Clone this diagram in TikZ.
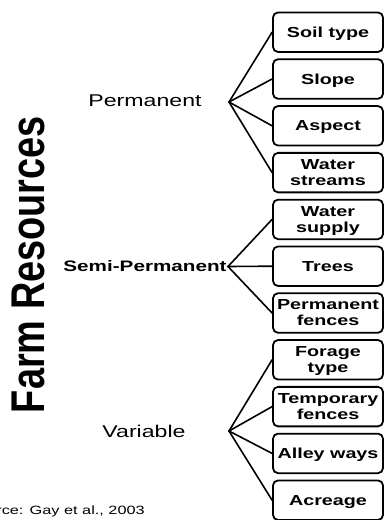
\documentclass[tikz,border=0pt]{standalone}
\usepackage{fontspec}
\setmainfont{Liberation Sans}
\usepackage{graphicx}
\newcommand{\hstr}[1]{\scalebox{1.36}[1]{#1}}
\begin{document}
\begin{tikzpicture}[x=1pt,y=-1pt,
  item/.style={draw=black, line width=1.8pt, rounded corners=5pt,
    minimum width=110pt, minimum height=39.5pt, inner sep=0pt,
    align=center, text depth=0pt,
    font=\fontsize{14.5}{16}\selectfont\bfseries},
  conn/.style={draw=black, line width=1.6pt, line cap=round, line join=round},
  cat/.style={inner sep=0pt, text depth=0pt}]
\useasboundingbox (0,0) rectangle (385,520);
\clip (0,0) rectangle (385,520);

% title
\node[inner sep=0pt, rotate=90, font=\fontsize{37.9}{40}\selectfont\bfseries]
  (title) at (28.5,264.5) {\scalebox{1}[1.25]{Farm Resources}};

% categories
\node[cat, font=\fontsize{17}{20}\selectfont] (perm) at (145,101) {\hstr{Permanent}};
\node[cat, font=\fontsize{15.2}{18}\selectfont\bfseries] (semi) at (145,266) {\hstr{Semi-Permanent}};
\node[cat, font=\fontsize{17}{20}\selectfont] (var) at (144,431) {\hstr{Variable}};

% fan points
\coordinate (p1) at (229,102);
\coordinate (p2) at (228,266.5);
\coordinate (p3) at (229,431);

% boxes
\node[item] (b1) at (328,32.2) {\hstr{Soil type}};
\node[item] (b2) at (328,79) {\hstr{Slope}};
\node[item] (b3) at (328,125.8) {\hstr{Aspect}};
\node[item] (b4) at (328,172.6) {\hstr{Water}\\\hstr{streams}};
\node[item] (b5) at (328,219.4) {\hstr{Water}\\\hstr{supply}};
\node[item] (b6) at (328,266.2) {\hstr{Trees}};
\node[item] (b7) at (328,313) {\hstr{Permanent}\\\hstr{fences}};
\node[item] (b8) at (328,359.8) {\hstr{Forage}\\\hstr{type}};
\node[item] (b9) at (328,406.6) {\hstr{Temporary}\\\hstr{fences}};
\node[item] (b10) at (328,453.4) {\hstr{Alley ways}};
\node[item] (b11) at (328,500.2) {\hstr{Acreage}};

% connectors
\foreach \b in {b1,b2,b3,b4} \draw[conn] (p1) -- (\b.west);
\foreach \b in {b5,b6,b7} \draw[conn] (p2) -- (\b.west);
\foreach \b in {b8,b9,b10,b11} \draw[conn] (p3) -- (\b.west);

% source
\node[inner sep=0pt, anchor=base east, font=\fontsize{12}{14}\selectfont]
  (src) at (145,514) {\hstr{Source: Gay et al., 2003}};
\end{tikzpicture}
\end{document}
